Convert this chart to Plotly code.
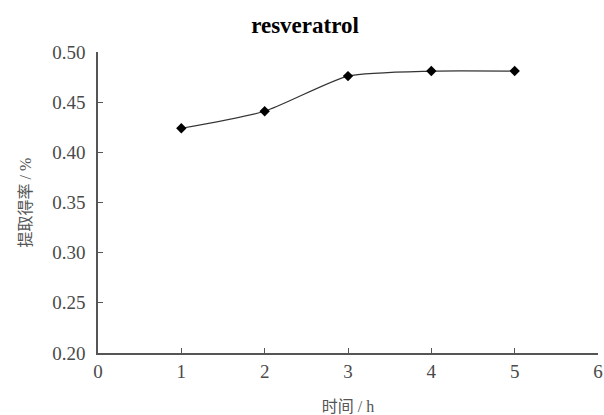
import plotly.graph_objects as go

# Extraction time (h) and resveratrol extraction yield (%)
time_h = [1, 2, 3, 4, 5]
yield_pct = [0.424, 0.441, 0.476, 0.481, 0.481]

x_ticks = [0, 1, 2, 3, 4, 5, 6]
y_ticks = [0.20, 0.25, 0.30, 0.35, 0.40, 0.45, 0.50]

serif = "Liberation Serif, Noto Sans CJK SC, serif"
axis_grey = "#555555"

fig = go.Figure(
    go.Scatter(
        x=time_h,
        y=yield_pct,
        mode="lines+markers",
        line=dict(color="#333333", width=1.2, shape="spline", smoothing=0.6),
        marker=dict(symbol="diamond", size=8, color="black"),
        showlegend=False,
    )
)

fig.update_layout(
    width=604,
    height=415,
    margin=dict(l=98, r=6, t=52, b=62),
    paper_bgcolor="white",
    plot_bgcolor="white",
    font=dict(family=serif, size=19, color="#4a4a4a"),
    title=dict(
        text="<b>resveratrol</b>",
        x=0.505,
        xanchor="center",
        y=0.94,
        yanchor="middle",
        font=dict(family=serif, size=23, color="black"),
    ),
)

fig.update_xaxes(
    range=[0, 6],
    tickvals=x_ticks,
    ticktext=[str(v) for v in x_ticks],
    ticks="inside",
    ticklen=5,
    tickcolor=axis_grey,
    ticklabeloverflow="allow",
    automargin=False,
    showline=True,
    linecolor=axis_grey,
    linewidth=1.5,
    showgrid=False,
    zeroline=False,
    title=dict(text="时间 / h", font=dict(size=16, color="#555555"), standoff=22),
)

fig.update_yaxes(
    range=[0.20, 0.50],
    tickvals=y_ticks,
    ticktext=[f"{v:.2f}" for v in y_ticks],
    ticks="inside",
    ticklen=5,
    tickcolor=axis_grey,
    ticklabelstandoff=7,
    automargin=False,
    showline=True,
    linecolor=axis_grey,
    linewidth=1.5,
    showgrid=False,
    zeroline=False,
    title=dict(text="提取得率 / %", font=dict(size=16, color="#555555"), standoff=17),
)

fig.write_html("out.html")
